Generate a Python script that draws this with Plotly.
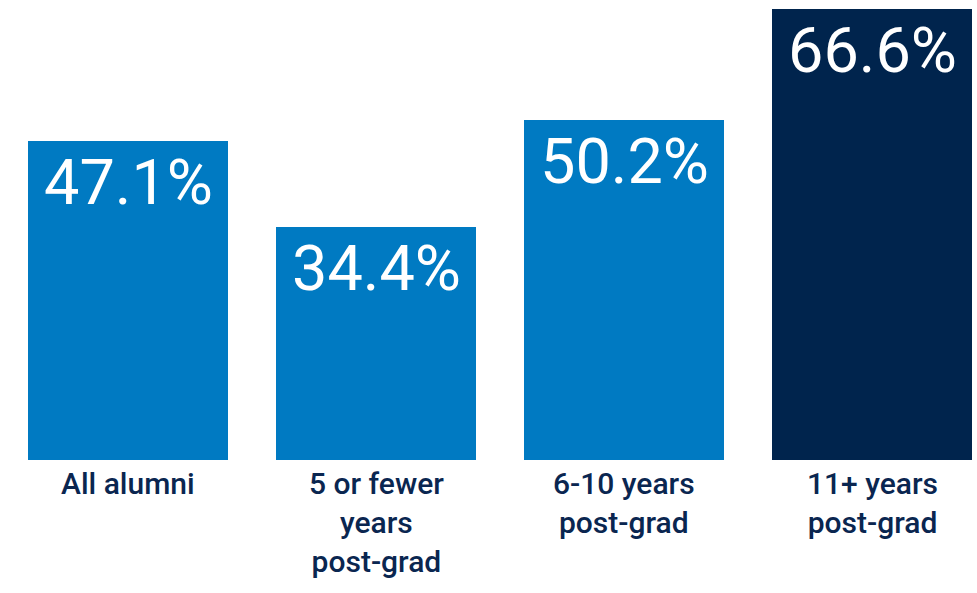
import plotly.graph_objects as go

categories = ["All alumni", "5 or fewer<br>years<br>post-grad", "6-10 years<br>post-grad", "11+ years<br>post-grad"]
values = [47.1, 34.4, 50.2, 66.6]
bar_colors = ["#007AC2", "#007AC2", "#007AC2", "#00244D"]
value_labels = ["47.1%", "34.4%", "50.2%", "66.6%"]

FONT = "Roboto, Liberation Sans, sans-serif"
NAVY = "#0A2650"

xs = list(range(len(categories)))

fig = go.Figure(go.Bar(
    x=xs, y=values, marker=dict(color=bar_colors, line=dict(width=0)),
    width=200 / 248, hoverinfo="skip",
))

for x, v, lab, cat in zip(xs, values, value_labels, categories):
    fig.add_annotation(x=x, y=v, xref="x", yref="y", text=lab, showarrow=False,
                       yanchor="top", yshift=-3,
                       font=dict(family=FONT, size=63, color="white", weight=400))
    fig.add_annotation(x=x, y=0, xref="x", yref="y", text=cat, showarrow=False,
                       yanchor="top", yshift=-4,
                       font=dict(family=FONT, size=30, color=NAVY, weight=500))

fig.update_layout(
    width=977, height=593,
    margin=dict(l=0, r=0, t=0, b=133),
    paper_bgcolor="white", plot_bgcolor="white",
    showlegend=False,
    xaxis=dict(range=[-128 / 248, (977 - 128) / 248], visible=False, fixedrange=True),
    yaxis=dict(range=[0, 460 / (451 / 66.6)], visible=False, fixedrange=True),
)

fig.write_html("out.html", config={"displayModeBar": False, "staticPlot": True},
               post_script="document.body.style.margin='0';document.body.style.padding='0';")
